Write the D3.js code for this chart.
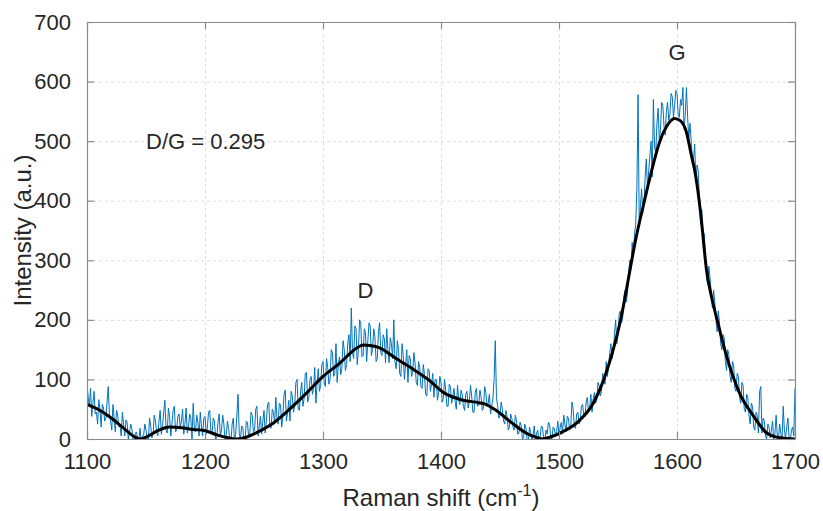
<!DOCTYPE html>
<html><head><meta charset="utf-8">
<script src="https://cdn.jsdelivr.net/npm/d3@7"></script>
<style>
body{margin:0;background:#fff;}
svg text{font-family:"Liberation Sans",Arial,Helvetica,sans-serif;fill:#262626;}
</style></head>
<body><svg id="c" width="823" height="511"></svg>
<script>
// ---- data ----
const xTicks = [1100,1200,1300,1400,1500,1600,1700];
const yTicks = [0,100,200,300,400,500,600,700];
const rawStart = 1100, rawStep = 1;
const rawIntensity = [
 92,70,55,85,38,60,80,42,45,25,66,48,20,58,52,30,35,62,88,40,
 30,15,58,35,12,48,40,20,22,5,45,25,5,32,28,0,10,25,18,-2,
 -5,10,12,-2,0,18,-8,5,6,25,15,0,-3,35,22,2,8,40,30,12,
 5,30,48,8,22,45,65,15,10,52,38,5,25,48,55,12,15,38,42,20,
 30,50,8,25,52,10,20,42,35,0,60,18,12,40,28,5,45,22,5,35,
 38,8,20,45,48,12,10,35,30,0,2,28,42,5,15,40,25,-2,6,30,
 18,0,-5,25,35,-4,8,40,75,10,0,22,20,-6,-3,30,28,2,10,45,
 40,12,15,50,55,5,22,38,8,30,48,10,30,58,62,20,18,50,45,25,
 70,35,25,60,58,20,40,75,82,30,45,65,30,80,72,45,55,95,100,50,
 48,80,95,55,68,110,112,62,70,100,105,75,85,120,60,95,118,80,90,125,
 130,95,88,135,120,92,100,150,145,105,110,160,95,125,138,108,118,165,150,115,
 125,160,175,130,220,145,135,190,185,125,150,200,195,138,140,185,178,130,165,195,
 190,140,150,185,172,130,135,180,195,145,140,175,168,128,185,150,128,170,160,135,
 200,130,118,165,150,110,105,160,140,100,125,150,95,140,135,105,110,145,128,95,
 90,130,120,88,85,125,108,75,72,118,115,80,92,110,70,100,100,65,78,105,
 95,62,68,100,82,55,55,92,88,60,70,85,62,50,90,65,58,82,75,55,
 48,75,80,52,62,90,72,45,45,78,85,55,58,82,70,48,52,88,78,55,
 60,75,42,55,68,100,165,70,55,35,40,62,50,30,25,48,38,15,20,42,
 35,20,15,40,30,8,10,28,22,0,2,25,18,-2,-4,20,12,-5,5,22,
 -3,10,15,-6,2,22,20,0,-5,15,8,28,25,2,0,20,18,5,12,30,
 5,20,28,8,40,25,12,38,35,15,22,62,50,20,18,42,45,25,30,55,
 58,40,38,62,70,45,52,75,45,68,78,60,65,95,90,72,80,110,108,92,
 130,105,120,145,160,135,145,175,200,160,175,210,215,195,205,240,250,230,245,280,
 300,285,330,310,345,360,420,578,360,390,420,380,395,440,470,420,450,475,500,440,
 570,490,480,530,555,500,520,565,560,525,510,550,565,535,545,580,575,540,560,585,
 580,545,540,570,560,590,520,545,590,540,505,530,500,470,470,495,430,460,450,400,
 360,385,330,345,310,270,260,290,270,245,220,250,230,200,180,215,195,160,150,175,
 170,130,115,150,140,105,95,130,125,85,80,110,105,70,60,95,90,50,45,75,
 70,40,25,60,55,20,15,45,40,10,80,88,10,35,30,5,0,25,20,2,
 15,30,-5,10,40,5,0,25,10,-3,55,15,2,20,35,0,-3,15,20,5,
 85];
const smoothShift = [1100,1110,1120,1130,1140,1145,1150,1160,1170,1180,1190,1200,1210,1220,1227,1235,1245,1258,1270,1286,1300,1314,1328,1334,1340,1348,1362,1375,1389,1403,1417,1432,1437,1446,1460,1474,1482,1486,1492,1501,1515,1529,1538,1543,1548,1552,1556,1560,1565,1569,1575,1580,1585,1591,1598,1603,1608,1612,1616,1620,1625,1630,1634,1642,1653,1665,1676,1685,1693,1700];
const smoothIntensity = [58,49,36,20,4,0,3,14,20,19,16,14,7,2,0,3,12,27,47,77,105,127,152,158,157,153,135,119,100,77,66,61,59,49,27,8,2,0,3,10,27,60,100,130,165,198,238,282,335,371,422,462,497,524,538,534,515,478,440,380,284,232,200,139,77,38,10,3,1,0];
const annotations = [{text:"D/G = 0.295", v:1150, i:487, anchor:"start"},{text:"D", v:1336, i:237, anchor:"middle"},{text:"G", v:1600, i:637, anchor:"middle"}];

// ---- layout ----
const L=87, R=795, T=22, B=439;
const svg=d3.select("#c");
const x=d3.scaleLinear().domain([1100,1700]).range([L,R]);
const y=d3.scaleLinear().domain([0,700]).range([B,T]);

svg.append("defs").append("clipPath").attr("id","clip").append("rect")
  .attr("x",L).attr("y",T).attr("width",R-L).attr("height",B-T);

// grid
const grid=svg.append("g");
grid.append("g").attr("transform",`translate(0,${B})`)
  .call(d3.axisBottom(x).tickValues(xTicks).tickSize(-(B-T)).tickFormat(""))
  .call(g=>{g.select(".domain").remove();g.selectAll("line").attr("stroke","#dcdcdc").attr("stroke-dasharray","3,3");});
grid.append("g").attr("transform",`translate(${L},0)`)
  .call(d3.axisLeft(y).tickValues(yTicks).tickSize(-(R-L)).tickFormat(""))
  .call(g=>{g.select(".domain").remove();g.selectAll("line").attr("stroke","#dcdcdc").attr("stroke-dasharray","3,3");});

// data
const raw = rawIntensity.map((v,i)=>({s:rawStart+i*rawStep, v}));
const smooth = smoothShift.map((s,i)=>({s, v:smoothIntensity[i]}));
const plot=svg.append("g").attr("clip-path","url(#clip)");
plot.append("path").datum(raw)
  .attr("fill","none").attr("stroke","#0072BD").attr("stroke-width",1)
  .attr("d",d3.line().x(d=>x(d.s)).y(d=>y(d.v)));
plot.append("path").datum(smooth)
  .attr("fill","none").attr("stroke","#000").attr("stroke-width",3).attr("stroke-linejoin","round")
  .attr("d",d3.line().x(d=>x(d.s)).y(d=>y(d.v)).curve(d3.curveMonotoneX));

// axes
const axColor="#8a8a8a";
function styleAxis(g){g.select(".domain").attr("stroke",axColor).attr("stroke-width",1.2);g.selectAll(".tick line").attr("stroke",axColor).attr("stroke-width",1.2);g.selectAll("text").attr("font-size",22).attr("fill","#262626").attr("font-family","Liberation Sans, Arial, sans-serif");}
svg.append("g").attr("transform",`translate(0,${B})`)
  .call(d3.axisBottom(x).tickValues(xTicks).tickSizeInner(-7).tickSizeOuter(0).tickPadding(14).tickFormat(d3.format("d")))
  .call(styleAxis);
svg.append("g").attr("transform",`translate(0,${T})`)
  .call(d3.axisTop(x).tickValues(xTicks).tickSizeInner(-7).tickSizeOuter(0).tickFormat(""))
  .call(styleAxis);
svg.append("g").attr("transform",`translate(${L},0)`)
  .call(d3.axisLeft(y).tickValues(yTicks).tickSizeInner(-7).tickSizeOuter(0).tickPadding(16).tickFormat(d3.format("d")))
  .call(styleAxis);
svg.append("g").attr("transform",`translate(${R},0)`)
  .call(d3.axisRight(y).tickValues(yTicks).tickSizeInner(-7).tickSizeOuter(0).tickFormat(""))
  .call(styleAxis);

// labels
const xl=svg.append("text").attr("x",(L+R)/2).attr("y",506).attr("text-anchor","middle").attr("font-size",24);
xl.append("tspan").text("Raman shift (cm");
xl.append("tspan").attr("dy",-10).attr("font-size",16).text("-1");
xl.append("tspan").attr("dy",10).text(")");
svg.append("text").attr("transform",`translate(31,${(T+B)/2}) rotate(-90)`).attr("text-anchor","middle").attr("font-size",24).text("Intensity (a.u.)");

svg.selectAll(".ann").data(annotations).enter().append("text")
  .attr("x",d=>x(d.v)).attr("y",d=>y(d.i)).attr("text-anchor",d=>d.anchor).attr("font-size",22).text(d=>d.text);
</script></body></html>
